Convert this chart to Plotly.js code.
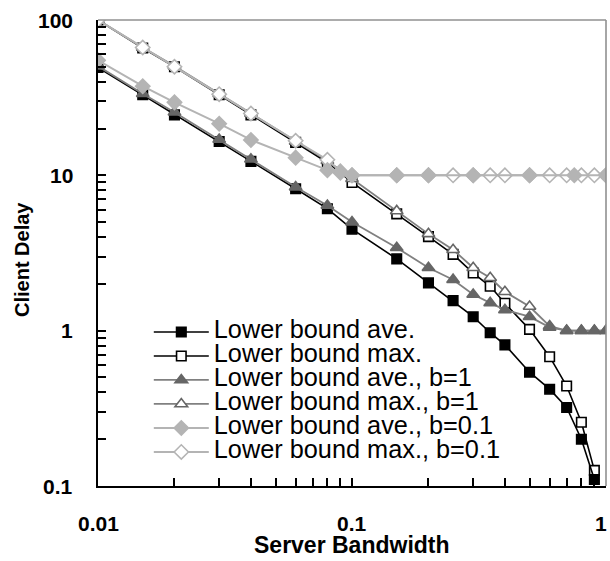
<!DOCTYPE html>
<html>
<head>
<meta charset="utf-8">
<script src="https://cdn.plot.ly/plotly-3.0.1.min.js"></script>
<style>html,body{margin:0;padding:0;background:#fff;}</style>
</head>
<body>
<div id="chart" style="width:610px;height:561px;"></div>
<script>
// ---- data ----
const seriesNames = [
  "Lower bound ave.",
  "Lower bound max.",
  "Lower bound ave., b=1",
  "Lower bound max., b=1",
  "Lower bound ave., b=0.1",
  "Lower bound max., b=0.1"
];
const xTitle = "Server Bandwidth";
const yTitle = "Client Delay";

const xMain = [0.01,0.015,0.02,0.03,0.04,0.06,0.08,0.1,0.15,0.2,0.25,0.3,0.35,0.4,0.5,0.6,0.7,0.8,0.9];
const aveLB = [49.5,33,24.5,16.5,12.3,8.2,6.1,4.5,2.9,2.03,1.56,1.23,0.97,0.81,0.54,0.42,0.32,0.2,0.11];
const maxLB = [100,66,50,33,24.5,16.3,12.1,9.0,5.65,4.03,3.1,2.35,1.93,1.5,1.02,0.68,0.44,0.257,0.126];

const xB1 = [0.01,0.015,0.02,0.03,0.04,0.06,0.08,0.1,0.15,0.2,0.25,0.3,0.35,0.4,0.5,0.6,0.7,0.8,0.9,1.0];
const aveB1 = [50.5,33.5,25.5,17,12.7,8.4,6.4,5.0,3.42,2.54,2.13,1.71,1.51,1.36,1.23,1.05,1.0,1.0,1.0,1.0];
const maxB1 = [100,66.5,50.5,33.5,25,16.5,12.4,9.5,5.9,4.2,3.32,2.54,2.19,1.78,1.43,1.07,1.0,1.0,1.0,1.0];

const xAveB01 = [0.01,0.015,0.02,0.03,0.04,0.06,0.08,0.09,0.1,0.15,0.2,0.3,0.5,0.75,1.0];
const aveB01 = [55,37.5,29.5,21.5,16.9,13,10.8,10.4,10,10,10,10,10,10,10];
const xMaxB01 = [0.01,0.015,0.02,0.03,0.04,0.06,0.08,0.09,0.1,0.15,0.2,0.25,0.3,0.35,0.4,0.5,0.6,0.7,0.8,0.9,1.0];
const maxB01 = [100,66.5,50,33.3,25,16.7,12.6,10.6,10,10,10,10,10,10,10,10,10,10,10,10,10];

const xLabelVals = [0.01,0.1,1];
const xLabelText = ["0.01","0.1","1"];
const xTickVals = [0.01,0.02,0.03,0.04,0.05,0.06,0.07,0.08,0.09,0.1,0.2,0.3,0.4,0.5,0.6,0.7,0.8,0.9,1];
const yLabelVals = [0.1,1,10,100];
const yLabelText = ["0.1","1","10","100"];
const yTickVals = [0.1,0.2,0.3,0.4,0.5,0.6,0.7,0.8,0.9,1,2,3,4,5,6,7,8,9,10,20,30,40,50,60,70,80,90,100];

// ---- styling ----
const FONT = "Liberation Sans, Arial, sans-serif";
function legendLabel(s){ return '<span style="font-size:25.3px">' + s + '</span>'; }

function trace(idx, x, y, lineColor, lineWidth, symbol, fill, edge, size){
  return {
    type: "scatter", mode: "lines+markers",
    x: x, y: y,
    name: legendLabel(seriesNames[idx]),
    legendrank: idx + 1,
    line: {color: lineColor, width: lineWidth},
    marker: {symbol: symbol, color: fill, size: size, line: {color: edge, width: 1.6}},
    hoverinfo: "x+y"
  };
}

const BLACK = "#000000", G1 = "#808080", G1M = "#666666", G2 = "#b4b4b4";
const data = [
  trace(1, xMain, maxLB, BLACK, 1.6, "square", "#ffffff", BLACK, 9.5),
  trace(0, xMain, aveLB, BLACK, 1.6, "square", BLACK, BLACK, 9.5),
  trace(3, xB1, maxB1, G1, 1.8, "triangle-up", "#ffffff", G1M, 11),
  trace(2, xB1, aveB1, G1, 1.8, "triangle-up", G1M, G1M, 11),
  trace(5, xMaxB01, maxB01, G2, 2, "diamond", "#ffffff", G2, 11),
  trace(4, xAveB01, aveB01, G2, 2, "diamond", G2, G2, 11)
];

const labelFont = {family: FONT, size: 21, weight: "bold", color: "#000000"};
const annotations = [];
xLabelVals.forEach(function(v, i){
  const last = i === xLabelVals.length - 1;
  annotations.push({text: xLabelText[i], xref: "x", yref: "paper", x: Math.log10(v), y: -0.0815,
    xanchor: last ? "right" : "center", xshift: last ? 3 : 0,
    yanchor: "middle", showarrow: false, font: labelFont});
});
yLabelVals.forEach(function(v, i){
  annotations.push({text: yLabelText[i], xref: "paper", yref: "y", x: -0.0453, y: Math.log10(v),
    xanchor: "right", yanchor: "middle", showarrow: false, font: labelFont});
});
annotations.push({text: xTitle, xref: "paper", yref: "paper", x: 0.5, y: -0.1266, xanchor: "center", yanchor: "middle",
  showarrow: false, font: {family: FONT, size: 23, weight: "bold", color: "#000000"}});
annotations.push({text: yTitle, xref: "paper", yref: "paper", x: -0.1496, y: 0.485, xanchor: "center", yanchor: "middle",
  textangle: -90, showarrow: false, font: {family: FONT, size: 20, weight: "bold", color: "#000000"}});

const layout = {
  width: 610, height: 561,
  margin: {l: 98, r: 4, t: 20, b: 75},
  font: {family: FONT, color: "#000000"},
  showlegend: true,
  legend: {
    x: 0.1, y: 0.367, xanchor: "left", yanchor: "top",
    bgcolor: "rgba(0,0,0,0)", borderwidth: 0,
    font: {family: FONT, size: 16.15, color: "#000000"},
    itemwidth: 55, tracegroupgap: 0
  },
  xaxis: {
    type: "log", range: [-2, 0],
    tickmode: "array", tickvals: xTickVals, showticklabels: false,
    ticks: "inside", ticklen: 8, tickwidth: 1.6, tickcolor: "#000000",
    showline: true, linecolor: "#000000", linewidth: 1.6,
    showgrid: false
  },
  yaxis: {
    type: "log", range: [-1, 2],
    tickmode: "array", tickvals: yTickVals, showticklabels: false,
    ticks: "inside", ticklen: 8, tickwidth: 1.6, tickcolor: "#000000",
    showline: true, linecolor: "#000000", linewidth: 1.6,
    showgrid: false
  },
  annotations: annotations,
  shapes: [
    {type: "line", xref: "paper", yref: "paper", x0: 0, x1: 1, y0: 1, y1: 1, line: {color: "#909090", width: 1.6}},
    {type: "line", xref: "paper", yref: "paper", x0: 1, x1: 1, y0: 0, y1: 1, line: {color: "#909090", width: 1.6}}
  ]
};

Plotly.newPlot("chart", data, layout, {displayModeBar: false});
</script>
</body>
</html>
